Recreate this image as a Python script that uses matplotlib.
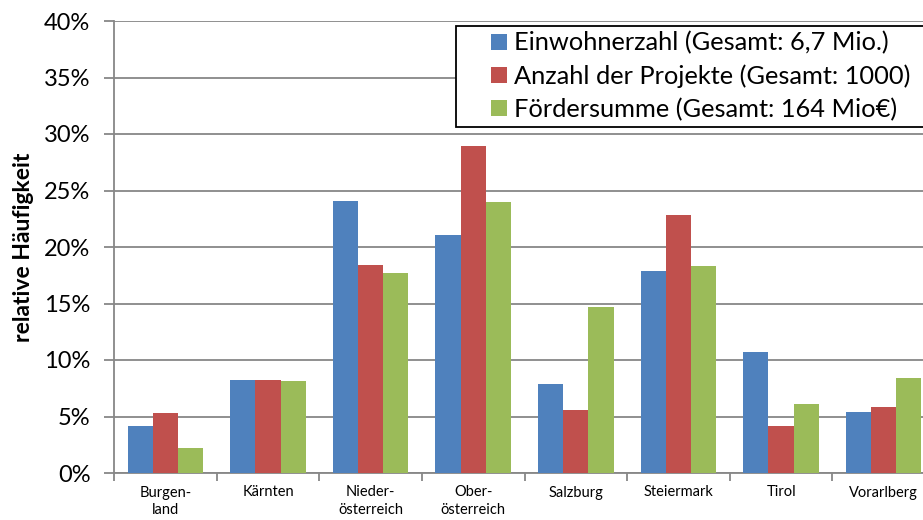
import numpy as np
import matplotlib
matplotlib.use("Agg")
import matplotlib.pyplot as plt
from matplotlib.patches import Rectangle
from matplotlib.ticker import FuncFormatter

plt.rcParams['font.family'] = ['Lato', 'DejaVu Sans']

### Data (relative Haeufigkeit in %)
laender = ["Burgen-\nland", "Kärnten", "Nieder-\nösterreich", "Ober-\nösterreich",
           "Salzburg", "Steiermark", "Tirol", "Vorarlberg"]
einwohner = [4.2, 8.2, 24.1, 21.1, 7.9, 17.9, 10.7, 5.4]
projekte = [5.3, 8.2, 18.4, 28.9, 5.6, 22.8, 4.2, 5.8]
foerder = [2.2, 8.1, 17.7, 24.0, 14.7, 18.3, 6.1, 8.4]

serien = ["Einwohnerzahl (Gesamt: 6,7 Mio.)",
          "Anzahl der Projekte (Gesamt: 1000)",
          "Fördersumme (Gesamt: 164 Mio€)"]
farben = ["#4F81BD", "#C0504D", "#9BBB59"]
grau = "#878787"

fig = plt.figure(figsize=(9.23, 5.2), dpi=100)
W, H = 923.0, 520.0
# plot area runs past the right edge, like the cropped original
ax = fig.add_axes([114 / W, 1 - 473 / H, 821 / W, 452 / H])

x = np.arange(len(laender))
bw = 0.245
for i, (vals, name, col) in enumerate(zip([einwohner, projekte, foerder], serien, farben)):
    ax.bar(x + (i - 1) * bw, vals, bw, color=col, label=name, zorder=3)

ax.set_xlim(-0.5, len(laender) - 0.5)
ax.set_ylim(0, 40)
ax.set_yticks(np.arange(0, 41, 5))
ax.yaxis.set_major_formatter(FuncFormatter(lambda v, p: "%d%%" % v))
ax.yaxis.grid(True, color=grau, linewidth=1.3, zorder=0)

ax.set_xticks(x)
ax.set_xticklabels(laender, fontsize=10.5, linespacing=1.35)
ax.set_xticks(np.arange(-0.5, len(laender), 1), minor=True)
ax.tick_params(axis='x', which='major', length=0, pad=9)
ax.tick_params(axis='x', which='minor', length=6, width=1.3, color=grau, direction='out')
ax.tick_params(axis='y', labelsize=17, length=7, width=1.3, color=grau, pad=10)

for s in ['top', 'right']:
    ax.spines[s].set_visible(False)
for s in ['left', 'bottom']:
    ax.spines[s].set_color(grau)
    ax.spines[s].set_linewidth(1.3)

ax.set_ylabel("relative Häufigkeit", fontsize=16.5, fontweight='bold')
ax.yaxis.set_label_coords(-80 / 821, 0.5)

# legend frame is cut off at the right edge of the image
fig.patches.append(Rectangle((456 / W, 1 - 127 / H), 0.6, 101 / H, transform=fig.transFigure,
                             facecolor='white', edgecolor='black', linewidth=1.3, zorder=5))
leg = fig.legend(loc='upper left', bbox_to_anchor=(485 / W, 1 - 25 / H), frameon=False,
                 fontsize=18.3, handlelength=0.6, handleheight=0.6, handletextpad=0.3,
                 labelspacing=0.39, borderpad=0.25, borderaxespad=0)
leg.set_zorder(6)

fig.savefig("out.png", dpi=100)
